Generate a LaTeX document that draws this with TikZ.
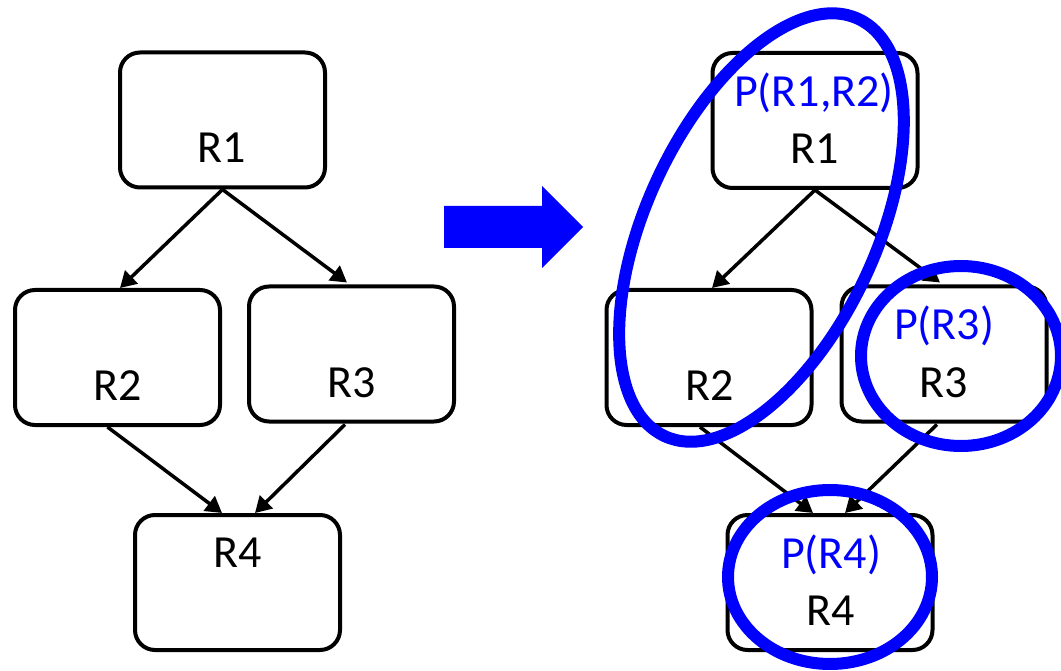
\documentclass[tikz,border=0pt]{standalone}
\usepackage{fontspec}
\setmainfont{Carlito}
\usetikzlibrary{arrows.meta,calc}
\definecolor{pblue}{RGB}{0,0,255}
\begin{document}
\begin{tikzpicture}[x=1pt,y=1pt,
  regbox/.style={draw=black,line width=4pt,rounded corners=20pt,
    minimum width=205pt,minimum height=135pt,inner sep=0pt,fill=white},
  lbl/.style={anchor=base,inner sep=0pt,font=\fontsize{46}{52}\selectfont},
  plbl/.style={lbl,text=pblue},
  flow/.style={line width=3.5pt,-{Triangle[length=16pt,width=18pt]}},
  group/.style={draw=pblue,line width=12pt}]
\useasboundingbox (0,0) rectangle (1061,-671);

% ---- original graph ----
\node[regbox] (a1) at (222.5,-120) {};
\node[regbox] (a2) at (117.5,-357.5) {};
\node[regbox] (a3) at (351.5,-354) {};
\node[regbox] (a4) at (237.5,-582.5) {};
\node[lbl] (ta1) at (222,-163) {R1};
\node[lbl] (ta2) at (117.5,-400) {R2};
\node[lbl] (ta3) at (352,-397) {R3};
\node[lbl] (ta4) at (238,-567) {R4};
\draw[flow] (a1.south) -- ($(a2.north)+(2.5,0)$);
\draw[flow] (a1.south) -- ($(a3.north)+(-4.5,2)$);
\draw[flow] ($(a2.south)+(-10,0)$) -- ($(a4.north)+(-15.5,0)$);
\draw[flow] ($(a3.south)+(-6.5,-1)$) -- ($(a4.north)+(17.5,0)$);

% ---- transformation arrow ----
\fill[pblue] (444,-206) -- (542,-206) -- (542,-186) -- (583,-227)
  -- (542,-268) -- (542,-248) -- (444,-248) -- cycle;

% ---- partitioned graph ----
\node[regbox] (b1) at (815,-120.5) {};
\node[regbox] (b2) at (709,-357.5) {};
\node[regbox] (b3) at (944,-354) {};
\node[regbox] (b4) at (830,-582.5) {};
\node[plbl] (pb1) at (814,-107) {P(R1,R2)};
\node[lbl] (tb1) at (815,-164) {R1};
\node[lbl] (tb2) at (710,-400) {R2};
\node[plbl] (pb3) at (944,-340) {P(R3)};
\node[lbl] (tb3) at (944,-397) {R3};
\node[plbl] (pb4) at (831,-568) {P(R4)};
\node[lbl] (tb4) at (831,-625) {R4};
\draw[flow] (b1.south) -- ($(b2.north)+(3,0)$);
\draw[flow] (b1.south) -- ($(b3.north)+(-4,2)$);
\draw[flow] ($(b2.south)+(-9,0)$) -- ($(b4.north)+(-17,0)$);
\draw[flow] ($(b3.south)+(-7,-1)$) -- ($(b4.north)+(15,0)$);

% ---- partition outlines ----
\coordinate (g12) at (761.5,-227.5);
\coordinate (g3) at (961,-356);
\coordinate (g4) at (830,-577);
\draw[group,rotate around={65.1:(g12)}] (g12) ellipse [x radius=230, y radius=115];
\draw[group] (g3) ellipse [x radius=100, y radius=90];
\draw[group] (g4) ellipse [x radius=102, y radius=87];
\end{tikzpicture}
\end{document}
